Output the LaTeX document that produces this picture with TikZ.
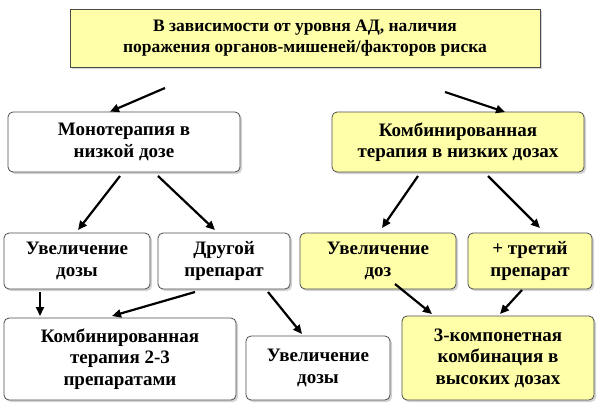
\documentclass[tikz,border=0pt]{standalone}
\usepackage{fontspec}
\setmainfont{Liberation Serif}
\usetikzlibrary{shadows,arrows.meta}
\begin{document}
\begin{tikzpicture}[x=1pt,y=-1pt,
  box/.style={draw=black!70,line width=0.8pt,rounded corners=5pt,fill=white,align=center,font={\fontsize{19}{21.5}\selectfont\rmfamily\bfseries},inner sep=2pt,
    drop shadow={opacity=0.35,shadow xshift=2pt,shadow yshift=-2pt}},
  ybox/.style={box,fill={rgb,255:red,255;green,255;blue,170}},
  arr/.style={-{Triangle[length=9pt,width=8pt]},line width=2.2pt}]
\useasboundingbox (0,0) rectangle (600,408);
\node[ybox,rounded corners=0pt,minimum width=470pt,minimum height=58pt,font={\fontsize{17.5}{21}\selectfont\rmfamily\bfseries}] (top) at (305,38) {В зависимости от уровня АД, наличия\\поражения органов-мишеней/факторов риска};
\node[box,minimum width=232pt,minimum height=60pt] (mono) at (124,142) {Монотерапия в\\низкой дозе};
\node[ybox,minimum width=252pt,minimum height=60pt] (comb) at (458,142) {Комбинированная\\терапия в низких дозах};
\node[box,minimum width=146pt,minimum height=56pt] (inc1) at (77,261) {Увеличение\\дозы};
\node[box,minimum width=132pt,minimum height=56pt] (drug) at (224,261) {Другой\\препарат};
\node[ybox,minimum width=156pt,minimum height=56pt] (inc2) at (378,261) {Увеличение\\доз};
\node[ybox,minimum width=124pt,minimum height=56pt] (third) at (530,261) {+ третий\\препарат};
\node[box,minimum width=232pt,minimum height=82pt] (c23) at (120,359) {Комбинированная\\терапия 2-3\\препаратами};
\node[box,minimum width=144pt,minimum height=64pt] (inc3) at (318,368) {Увеличение\\дозы};
\node[ybox,minimum width=192pt,minimum height=84pt] (c3) at (498,358) {3-компонетная\\комбинация в\\высоких дозах};
\coordinate (a1) at (165,88);
\coordinate (a2) at (445,92);
\draw[arr] (a1) -- (mono.north -| 110,0);
\draw[arr] (a2) -- (505,112);
\draw[arr] (120,176) -- (78,230);
\draw[arr] (158,176) -- (215,230);
\draw[arr] (418,176) -- (382,228);
\draw[arr] (488,176) -- (540,228);
\draw[arr] (40,292) -- (40,316);
\draw[arr] (195,292) -- (112,316);
\draw[arr] (268,292) -- (302,334);
\draw[arr] (395,284) -- (432,314);
\draw[arr] (522,290) -- (500,314);
\end{tikzpicture}
\end{document}
